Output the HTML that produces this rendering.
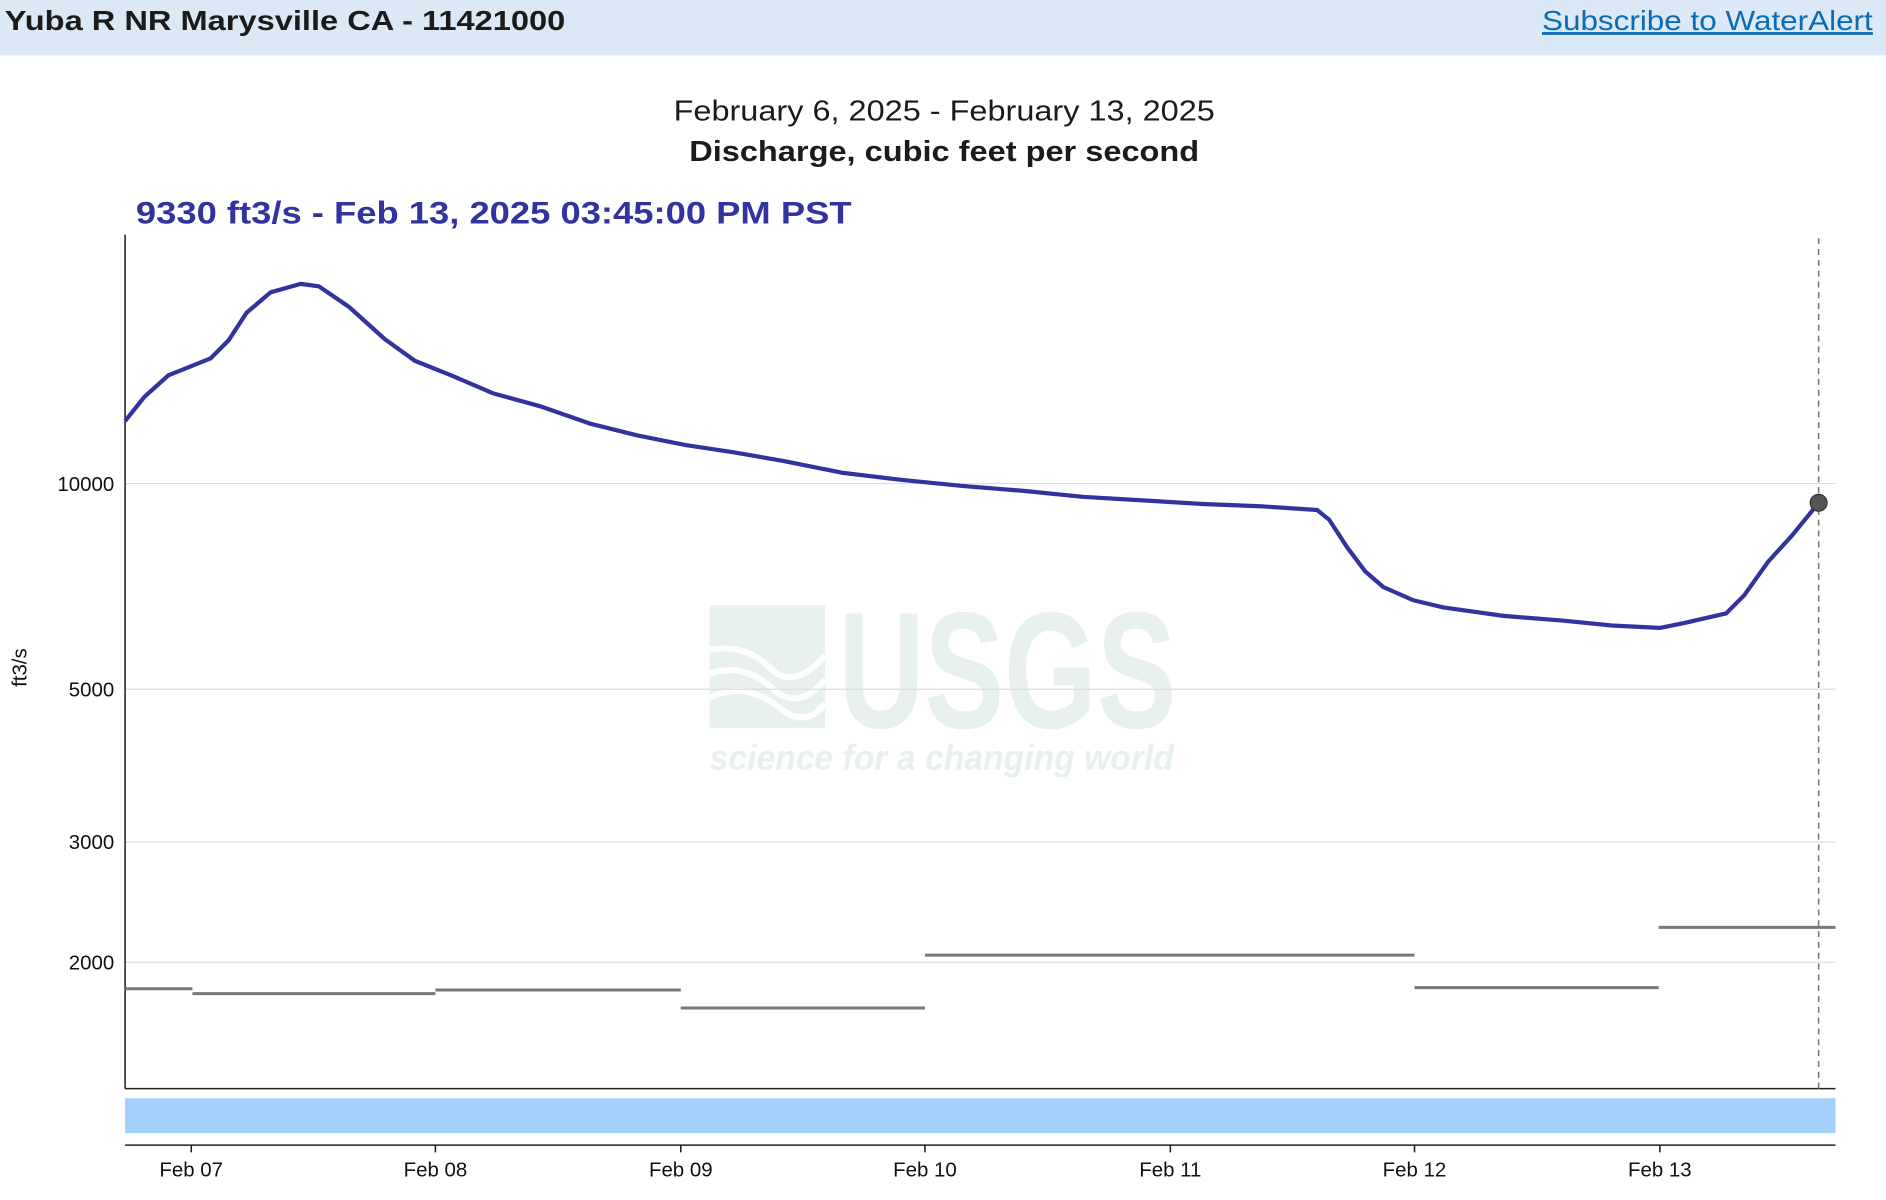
<!DOCTYPE html>
<html><head><meta charset="utf-8"><style>
html,body{margin:0;padding:0;background:#fff;}
svg{display:block;}
text{font-family:"Liberation Sans",sans-serif;}
</style></head><body>
<svg width="1886" height="1200" viewBox="0 0 1568 997.6" preserveAspectRatio="none" xmlns="http://www.w3.org/2000/svg">
<rect x="0" y="0" width="1568" height="46" fill="#dbe8f5"/>
<text x="4" y="25" font-size="23" font-weight="bold" fill="#1b1b1b" textLength="466" lengthAdjust="spacingAndGlyphs">Yuba R NR Marysville CA - 11421000</text>
<text x="1282" y="25" font-size="23" fill="#0b6cb5" textLength="275" lengthAdjust="spacingAndGlyphs" text-decoration="underline">Subscribe to WaterAlert</text>
<line x1="1282" y1="28" x2="1557" y2="28" stroke="#0b6cb5" stroke-width="1.5"/>
<text x="785" y="100" font-size="24" text-anchor="middle" fill="#1b1b1b" textLength="450" lengthAdjust="spacingAndGlyphs">February 6, 2025 - February 13, 2025</text>
<text x="785" y="134" font-size="24" font-weight="bold" text-anchor="middle" fill="#1b1b1b" textLength="424" lengthAdjust="spacingAndGlyphs">Discharge, cubic feet per second</text>
<text x="113" y="186" font-size="26" font-weight="bold" fill="#3333a0" textLength="595" lengthAdjust="spacingAndGlyphs">9330 ft3/s - Feb 13, 2025 03:45:00 PM PST</text>
<!-- watermark -->
<g fill="#e9f1ef">
<rect x="590" y="503" width="96" height="102"/>
<text x="697" y="605" font-size="138" font-weight="bold" textLength="281" lengthAdjust="spacingAndGlyphs">USGS</text>
<text x="590" y="640" font-size="30" font-weight="bold" font-style="italic" textLength="386" lengthAdjust="spacingAndGlyphs">science for a changing world</text>
</g>
<path d="M590 540 Q620 535 640 555 Q660 575 686 545 M590 560 Q620 550 645 575 Q665 590 686 565 M590 580 Q620 565 650 590 Q670 605 686 585" stroke="#fff" stroke-width="5" fill="none"/>
<!-- grid -->
<g stroke="#dddddd" stroke-width="1">
<line x1="104" y1="402" x2="1526" y2="402"/>
<line x1="104" y1="573" x2="1526" y2="573"/>
<line x1="104" y1="700" x2="1526" y2="700"/>
<line x1="104" y1="800" x2="1526" y2="800"/>
</g>
<g font-size="17" fill="#111" text-anchor="end">
<text x="95" y="408">10000</text>
<text x="95" y="579">5000</text>
<text x="95" y="706">3000</text>
<text x="95" y="806">2000</text>
</g>
<text transform="translate(22,555) rotate(-90)" font-size="17" text-anchor="middle" fill="#111">ft3/s</text>
<line x1="104" y1="195" x2="104" y2="905" stroke="#222" stroke-width="1.3"/>
<line x1="104" y1="905" x2="1526" y2="905" stroke="#222" stroke-width="1.3"/>
<!-- medians -->
<g stroke="#777" stroke-width="2.5">
<line x1="104" y1="822" x2="160" y2="822"/>
<line x1="160" y1="826" x2="362" y2="826"/>
<line x1="362" y1="823" x2="566" y2="823"/>
<line x1="566" y1="838" x2="769" y2="838"/>
<line x1="769" y1="794" x2="1176" y2="794"/>
<line x1="1176" y1="821" x2="1379" y2="821"/>
<line x1="1379" y1="771" x2="1526" y2="771"/>
</g>
<line x1="1512" y1="198" x2="1512" y2="905" stroke="#777" stroke-width="1.3" stroke-dasharray="5,4"/>
<polyline fill="none" stroke="#3333a0" stroke-width="3.5" stroke-linejoin="round" points="104,350 120,330 140,312 175,298 190,283 205,260 225,243 250,236 265,238 290,255 320,282 345,300 375,312 410,327 450,338 490,352 530,362 570,370 610,376 650,383 700,393 750,399 800,404 850,408 900,413 950,416 1000,419 1050,421 1095,424 1105,432 1120,455 1135,475 1150,488 1175,499 1200,505 1250,512 1300,516 1340,520 1380,522 1400,518 1435,510 1450,495 1470,467 1490,445 1512,418"/>
<circle cx="1512" cy="418" r="7" fill="#555" stroke="#333" stroke-width="1"/>
<rect x="104" y="913" width="1422" height="29" fill="#a3d0fb"/>
<line x1="104" y1="952" x2="1526" y2="952" stroke="#222" stroke-width="1.3"/>
<g stroke="#222" stroke-width="1.3">
<line x1="159" y1="952" x2="159" y2="958"/><line x1="362" y1="952" x2="362" y2="958"/>
<line x1="566" y1="952" x2="566" y2="958"/><line x1="769" y1="952" x2="769" y2="958"/>
<line x1="973" y1="952" x2="973" y2="958"/><line x1="1176" y1="952" x2="1176" y2="958"/>
<line x1="1380" y1="952" x2="1380" y2="958"/>
</g>
<g font-size="17" fill="#111" text-anchor="middle">
<text x="159" y="978">Feb 07</text><text x="362" y="978">Feb 08</text>
<text x="566" y="978">Feb 09</text><text x="769" y="978">Feb 10</text>
<text x="973" y="978">Feb 11</text><text x="1176" y="978">Feb 12</text>
<text x="1380" y="978">Feb 13</text>
</g>
</svg>
</body></html>
